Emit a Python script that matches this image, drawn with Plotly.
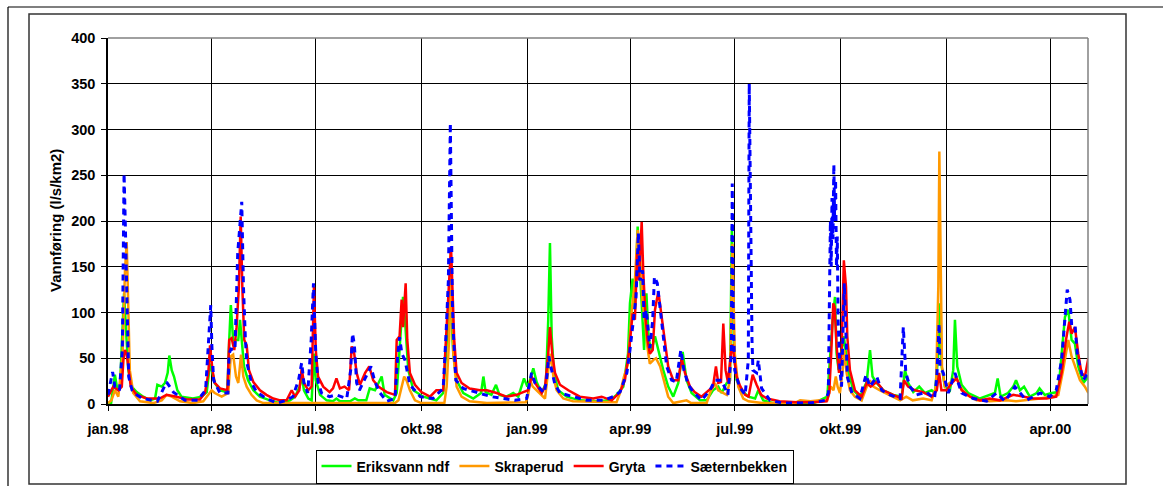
import pandas as pd
import plotly.graph_objects as go

START = "1998-01-01"
END_DAY = 853.7

tick_dates = ["1998-01-01", "1998-04-01", "1998-07-01", "1998-10-01", "1999-01-01",
              "1999-04-01", "1999-07-01", "1999-10-01", "2000-01-01", "2000-04-01"]
tick_labels = ["jan.98", "apr.98", "jul.98", "okt.98", "jan.99",
               "apr.99", "jul.99", "okt.99", "jan.00", "apr.00"]
y_ticks = [0, 50, 100, 150, 200, 250, 300, 350, 400]

# ---- Eriksvann ndf (day offset from 1998-01-01, l/s/km2)
eriksvann_days = [0, 2.7, 6, 8, 10.5, 12.8, 14, 15.7, 17.7, 20.6, 25, 30.7, 36.6, 41, 43, 46.8, 49.6, 52, 53.4, 55.5,
                  57.5, 60.4, 64, 74, 81.6, 86, 88.9, 91, 93, 97.6, 104, 105.6, 107, 109, 111.5, 113.5, 115, 116.5,
                  118.5, 122, 126.6, 132.4, 141, 150, 158.5, 163, 167, 168.7, 170.7, 174.5, 177.4, 179.4, 181, 184.7,
                  190.5, 196, 199, 202, 210.8, 215, 218, 225, 228, 232.6, 238.4, 241, 248.5, 251.5, 253.7, 255.8,
                  257, 258.7, 261.6, 266, 274.6, 280.5, 286, 292, 296.5, 298.5, 300.8, 303.7, 309.5, 318.2, 325,
                  327, 329, 334, 338, 341, 347, 353, 357.4, 362.4, 365.3, 367.6, 370.5, 373.4, 377.8, 381.5, 383.5,
                  385, 386.5, 388.5, 392.2, 399.6, 411, 425.7, 437.3, 443, 448.9, 453, 454.7, 457, 459, 461.4,
                  463.4, 465.7, 467, 469, 471, 473.6, 476.5, 479.4, 483.7, 488, 492.4, 496.8, 500.6, 504, 508.4,
                  515.7, 521.5, 527, 531.6, 534.5, 539, 541.8, 543.5, 545.3, 547.6, 552, 557.8, 563.7, 566.5,
                  570.8, 580, 600, 615, 626.6, 629, 631.3, 633.3, 634.7, 636.5, 639, 641, 642.9, 645, 649.4, 655,
                  660.9, 663.8, 666, 669.6, 675.4, 684, 691.4, 694.3, 697, 701.5, 706.7, 711.7, 717.5, 720.4,
                  723.3, 724.7, 726.2, 729, 733.4, 736.3, 737.8, 739.8, 743.6, 749.4, 759.6, 768, 772.6, 775,
                  777.6, 784, 788.6, 791, 794.4, 798, 803, 809, 811.5, 816, 822, 827.8, 830.7, 833.6, 836.5,
                  839.4, 842.3, 845.2, 849.6, 854]
eriksvann_vals = [1, 1, 32, 17, 19, 92, 121, 81, 37, 19, 13, 8, 4, 6, 21, 19, 23, 34, 53, 37,
                  30, 15, 8, 6, 8, 13, 44, 34, 23, 15, 13, 70, 108, 70, 70, 70, 92, 70,
                  41, 26, 15, 8, 4, 1, 4, 8, 19, 32, 15, 6, 4, 55, 26, 10,
                  4, 3, 6, 3, 3, 6, 4, 4, 17, 15, 30, 10, 4, 12, 52, 92,
                  117, 92, 37, 15, 8, 6, 4, 12, 92, 110, 55, 26, 12, 6, 12,
                  30, 13, 10, 21, 10, 8, 12, 8, 28, 19, 26, 39, 24, 12, 23, 92,
                  176, 74, 34, 15, 8, 4, 3, 4, 10, 19, 55, 110, 137, 103, 194,
                  146, 103, 59, 121, 70, 59, 74, 59, 37, 19, 8, 23, 57, 26, 12,
                  4, 4, 15, 19, 12, 23, 26, 194, 55, 26, 15, 8, 6, 15,
                  4, 1, 1, 1, 8, 55, 92, 117, 55, 37, 55, 74, 55, 34, 15, 8,
                  24, 59, 30, 23, 15, 10, 8, 37, 23, 13, 19, 12, 15, 12,
                  55, 110, 41, 19, 15, 37, 92, 41, 21, 12, 6, 10, 12, 28,
                  8, 12, 19, 26, 15, 19, 8, 12, 17, 10, 12, 13, 55, 95, 103,
                  70, 66, 41, 23, 30]

# ---- Skraperud
skraperud_days = [0, 3, 6, 9, 12.8, 14.8, 16.3, 17.7, 19, 22, 27.9, 39.5, 46.8, 51, 55.5, 62.7, 74, 83, 87.4, 90.3,
                  93, 99, 104.8, 106.9, 109, 111.5, 113.5, 115.9, 117.9, 120.8, 125, 129.5, 135.3, 180, 200, 230,
                  250, 253, 255.8, 258, 260, 263, 267.4, 273, 293, 295, 297.3, 298.5, 300.8, 303.7, 308, 315, 330,
                  364, 366, 368, 370, 377.8, 380.7, 383.5, 385.6, 388, 390.8, 396.6, 405, 443, 446, 449.5, 453,
                  456, 459, 461.4, 463.4, 465.7, 467.8, 469.8, 472, 475, 477.4, 481, 485, 488, 492.4, 501, 504,
                  508, 521.5, 524.4, 528.7, 531.6, 534.5, 539, 541.8, 544, 546, 549, 553.4, 558, 570, 598, 603,
                  612, 620, 626.6, 629.6, 632, 634, 635.6, 637.6, 640, 641.4, 643.4, 646.3, 650.7, 656.5, 661,
                  663.8, 666.7, 672.5, 681, 690, 695.4, 701, 710, 717.5, 721.3, 723.3, 724.2, 725.3, 726.5, 729,
                  736.3, 738.7, 742, 748, 756.7, 768, 782.8, 791, 800, 812, 820.5, 827.8, 832, 836.5, 839.4,
                  842.3, 846.7, 851, 854]
skraperud_vals = [1, 4, 15, 8, 55, 146, 177, 92, 37, 12, 3, 1, 4, 10, 8, 3, 1, 3, 10, 15,
                  12, 8, 12, 52, 54, 30, 23, 54, 30, 19, 10, 4, 1, 1, 1, 1,
                  1, 4, 19, 30, 26, 15, 4, 1, 1, 19, 74, 165, 55, 19, 8, 3, 1,
                  2, 10, 25, 19, 10, 6, 37, 55, 30, 15, 6, 3, 2, 12, 30, 44,
                  99, 135, 190, 165, 110, 92, 63, 44, 48, 50, 41, 23, 8, 1, 3, 4,
                  1, 1, 12, 23, 15, 13, 10, 26, 175, 55, 19, 6, 3, 1, 1, 4,
                  3, 4, 4, 19, 15, 30, 19, 12, 37, 59, 34, 15, 8, 4, 19,
                  26, 19, 15, 10, 4, 8, 4, 6, 4, 19, 128, 276, 128, 41, 19,
                  26, 30, 19, 10, 4, 3, 4, 3, 4, 6, 8, 10, 37, 70, 52,
                  41, 26, 19, 12]

# ---- Gryta
gryta_days = [0, 4.6, 9, 12, 13.4, 14.8, 16.3, 17.7, 19.8, 25, 33.7, 45, 51, 60, 68.5, 80, 84.5, 87.4, 88.9, 91, 93,
              97.6, 104, 105.6, 107.7, 110, 112, 114, 115.6, 117, 118.7, 120.8, 122.8, 126.6, 132.4, 138, 144, 150,
              155.6, 160, 163, 166.7, 168.7, 170.7, 174.5, 177.4, 179.4, 181, 183, 187.5, 193, 196, 199, 202, 206,
              210, 212.3, 214.5, 216.6, 219.5, 224, 227.6, 231, 235.5, 242.8, 250, 251.5, 254, 255.8, 257, 259.3,
              260.7, 263, 267.4, 273, 280.5, 286, 292, 295, 297.3, 298.8, 300, 301.6, 303.7, 308, 315, 324, 330,
              338.6, 347, 356, 361.7, 366, 369, 372, 377.8, 380.7, 383.5, 385, 387, 389.4, 393.7, 401, 411, 422.7,
              430, 438.8, 446, 450.3, 454, 457, 459, 461, 462.5, 464.9, 466.3, 468.4, 470, 472, 474.5, 476.5,
              479.4, 482, 485, 488, 492.4, 496.8, 499.7, 502.6, 507, 511, 517, 521.5, 527, 529.6, 531.6, 534,
              536, 538, 540, 542.6, 544, 546, 547.6, 550.5, 555, 558, 561.6, 565, 569, 574, 585, 600, 615, 626,
              628.3, 630, 631.8, 633, 634.7, 636.8, 639, 641, 642.9, 644, 646.3, 650.7, 656.5, 660.9, 664.4,
              669.6, 675.4, 684, 691.4, 693.4, 697, 703, 710, 717.5, 722, 724, 726, 730.5, 735, 739.3, 743.6,
              751, 759.6, 768, 777, 788.6, 797, 806, 817.7, 826, 830.7, 834.5, 837.4, 839.4, 842.3, 845.2, 848,
              851, 854]
gryta_vals = [8, 19, 15, 19, 48, 59, 55, 41, 19, 10, 6, 6, 10, 8, 5, 5, 12, 34, 64, 37, 23,
              17, 15, 70, 72, 59, 84, 128, 205, 128, 70, 64, 37, 24, 15, 10, 6, 4,
              4, 15, 8, 15, 39, 23, 15, 19, 128, 59, 30, 19, 13, 17, 28, 17, 19,
              15, 63, 55, 34, 21, 34, 41, 26, 19, 13, 10, 70, 74, 114, 84, 132,
              70, 34, 21, 13, 8, 15, 15, 84, 135, 172, 128, 70, 34, 23, 17, 15, 15,
              12, 8, 10, 13, 15, 30, 23, 12, 19, 55, 84, 55, 34, 21, 15, 8, 6,
              8, 4, 13, 26, 59, 99, 92, 165, 135, 199, 143, 92, 70, 55, 59, 103,
              123, 99, 70, 41, 26, 26, 50, 34, 19, 13, 8, 13, 19, 41, 23, 24,
              88, 37, 24, 55, 65, 45, 30, 20, 10, 8, 32, 21, 10, 6, 3, 2, 2, 3,
              12, 55, 110, 106, 63, 34, 55, 157, 128, 74, 37, 15, 8, 23, 19,
              24, 15, 10, 6, 26, 19, 15, 13, 8, 15, 34, 15, 15, 23, 28, 15,
              8, 4, 6, 4, 10, 8, 6, 6, 8, 34, 70, 90, 77, 84, 55, 34,
              30, 50]

# ---- Sæternbekken
saetern_days = [0, 4, 6, 10, 12.5, 14, 15, 16.5, 18, 21, 25, 30, 43, 51, 57, 67, 78, 85, 89.5, 90.5, 92, 97.5, 104.5,
                105.5, 107, 110.6, 113, 116.5, 118, 119.7, 121, 125, 129.5, 138, 147, 155.6, 161, 166, 168.7, 170.7,
                174, 177, 179, 180, 181, 183, 186, 193, 199, 208, 211.4, 213, 214.6, 216.6, 219, 224, 229, 232.6,
                237, 242.8, 250, 252.3, 254, 256, 258.7, 263, 272, 283, 292, 294.5, 296.5, 298.2, 299, 300, 301,
                303, 309.5, 315, 324, 334, 344, 354.5, 364.7, 369, 372, 376, 380, 382, 384, 386.5, 389.4, 393.7,
                405, 417, 431.5, 440, 446, 452, 454.7, 457.6, 460, 462, 463.4, 465.7, 467, 469, 472, 474.5, 476,
                478.5, 481, 483.7, 486.7, 491, 495, 499, 501.7, 505.5, 510, 517, 524.4, 528.7, 534.5, 540, 543,
                543.8, 544.7, 546, 550, 555, 557.8, 558.6, 559.4, 560.2, 561, 561.8, 565, 566.5, 569.4, 576.7, 588,
                600, 611.5, 624.6, 627.5, 628.5, 629.3, 630, 630.7, 631.5, 632.3, 633, 633.8, 634.6, 635.3, 636,
                637.6, 639, 640.5, 641.4, 642.9, 644, 648, 655, 660.3, 663.8, 669.6, 674, 681, 690, 692.8, 694,
                695, 698.6, 704.4, 713, 720, 722, 723.3, 724, 724.7, 727.6, 732, 737.8, 743.6, 753.7, 765.4, 774,
                781.4, 790, 800, 812, 820.5, 826, 830.7, 833.6, 835.6, 838, 839.4, 842.3, 844.3, 846.7, 849.6,
                853.7]
saetern_vals = [10, 35, 19, 15, 60, 252, 201, 92, 30, 15, 10, 6, 3, 24, 13, 4, 4, 15, 108, 63, 26, 12, 12,
                55, 60, 59, 165, 221, 128, 70, 45, 23, 13, 6, 1, 4, 8, 26, 45, 23,
                12, 70, 132, 92, 55, 24, 12, 8, 10, 6, 37, 77, 65, 23, 15, 28, 41, 24,
                12, 3, 6, 52, 73, 55, 48, 21, 8, 6, 17, 77, 135, 307, 201, 110, 74,
                26, 17, 15, 12, 8, 6, 4, 6, 34, 23, 17, 12, 26, 52, 37, 21, 12,
                8, 4, 4, 8, 13, 34, 59, 92, 117, 187, 135, 146, 92, 103, 61, 92, 139,
                132, 103, 70, 41, 26, 24, 59, 37, 21, 13, 4, 15, 26, 26, 10, 55,
                241, 92, 37, 19, 10, 48, 350, 237, 128, 70, 37, 34, 48, 17, 4, 1,
                1, 1, 4, 12, 120, 200, 150, 225, 180, 262, 200, 245, 150, 183, 92,
                37, 19, 110, 132, 74, 30, 12, 6, 32, 19, 30, 15, 10, 6, 84, 48,
                34, 19, 10, 13, 6, 30, 70, 88, 41, 34, 12, 34, 12, 6, 3, 12,
                3, 19, 4, 12, 8, 15, 48, 92, 125, 114, 88, 88, 55, 41, 26,
                34]

start = pd.Timestamp(START)


def to_dates(days):
    return start + pd.to_timedelta(days, unit="D")


FONT = "Liberation Sans, Arial, sans-serif"

series = [
    ("Eriksvann ndf", eriksvann_days, eriksvann_vals, dict(color="#00FF00", width=2.5)),
    ("Skraperud", skraperud_days, skraperud_vals, dict(color="#FF9900", width=2.5)),
    ("Gryta", gryta_days, gryta_vals, dict(color="#FF0000", width=2.5)),
    ("Sæternbekken", saetern_days, saetern_vals, dict(color="#0000FF", width=3, dash="6px,5px")),
]

fig = go.Figure()
for name, d, v, line in series:
    fig.add_trace(go.Scatter(x=to_dates(d), y=v, mode="lines", name=name, line=line))

W, H = 1163, 486
L, R, T, B = 108, 1088, 38, 404


def px(x):
    return (x - L) / (R - L)


def py(y):
    return (B - y) / (B - T)


shapes = [
    # outer frame (left and top lines)
    dict(type="line", xref="paper", yref="paper", x0=px(8), x1=px(8), y0=py(490), y1=py(7),
         line=dict(color="#000000", width=1.2)),
    dict(type="line", xref="paper", yref="paper", x0=px(8), x1=px(1170), y0=py(7), y1=py(7),
         line=dict(color="#000000", width=1.2)),
    # chart area box
    dict(type="rect", xref="paper", yref="paper", x0=px(29), x1=px(1126), y0=py(484), y1=py(14),
         line=dict(color="#333333", width=1.5)),
    # plot area border top/right
    dict(type="line", xref="paper", yref="paper", x0=0, x1=1, y0=1, y1=1,
         line=dict(color="#808080", width=1.5)),
    dict(type="line", xref="paper", yref="paper", x0=1, x1=1, y0=0, y1=1,
         line=dict(color="#808080", width=1.5)),
]

fig.update_layout(
    width=W, height=H,
    margin=dict(l=L, r=W - R, t=T, b=H - B, autoexpand=False),
    paper_bgcolor="white", plot_bgcolor="white",
    font=dict(family=FONT, color="black"),
    shapes=shapes,
    showlegend=True,
    legend=dict(orientation="h", x=px(554.5), y=py(466.5), xanchor="center", yanchor="middle",
                bordercolor="black", borderwidth=1, bgcolor="white",
                font=dict(family=FONT, size=14, weight="bold", color="black"),
                itemwidth=30, tracegroupgap=0),
    annotations=[dict(text="Vannføring (l/s/km2)", xref="paper", yref="paper", x=px(55), y=0.5,
                      xanchor="center", yanchor="middle", textangle=-90, showarrow=False,
                      font=dict(family=FONT, size=15, weight="bold", color="black"))],
)

fig.update_xaxes(
    type="date",
    range=[start, start + pd.Timedelta(days=END_DAY)],
    tickvals=pd.to_datetime(tick_dates), ticktext=tick_labels,
    ticks="outside", ticklen=5, tickcolor="black", tickwidth=1,
    tickfont=dict(family=FONT, size=14.5, weight="bold", color="black"),
    ticklabelstandoff=6,
    showgrid=True, gridcolor="black", gridwidth=1,
    showline=True, linecolor="black", linewidth=1.5,
    zeroline=False, automargin=False,
)
fig.update_yaxes(
    range=[0, 400], tickvals=y_ticks,
    ticks="outside", ticklen=5, tickcolor="black", tickwidth=1,
    tickfont=dict(family=FONT, size=14.5, weight="bold", color="black"),
    ticklabelstandoff=3,
    showgrid=True, gridcolor="black", gridwidth=1,
    showline=True, linecolor="black", linewidth=1.5,
    zeroline=False, automargin=False,
)

fig.write_html("out.html")
